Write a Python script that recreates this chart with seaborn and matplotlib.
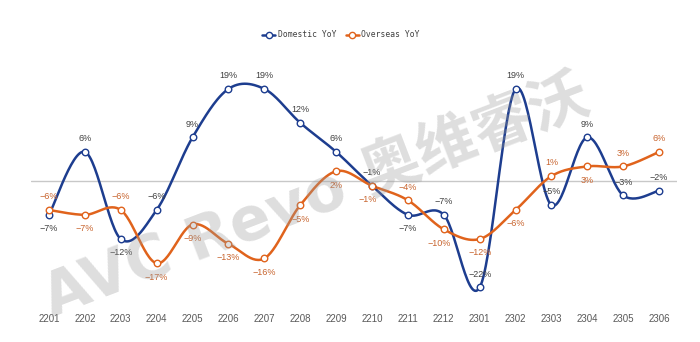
import numpy as np
import pandas as pd
import matplotlib
matplotlib.use("Agg")
import matplotlib.pyplot as plt
from matplotlib.lines import Line2D
import seaborn as sns

# ---- data ----
months = ["2201", "2202", "2203", "2204", "2205", "2206", "2207", "2208", "2209",
          "2210", "2211", "2212", "2301", "2302", "2303", "2304", "2305", "2306"]
domestic = [-7, 6, -12, -6, 9, 19, 19, 12, 6, -1, -7, -7, -22, 19, -5, 9, -3, -2]
overseas = [-6, -7, -6, -17, -9, -13, -16, -5, 2, -1, -4, -10, -12, -6, 1, 3, 3, 6]
series_names = ["Domestic YoY", "Overseas YoY"]

# label placement (a = above, b = below, l = below-left)
dom_pos = ["b", "a", "b", "a", "a", "a", "a", "a", "a", "a", "b", "a", "a", "a", "a", "a", "a", "a"]
ovs_pos = ["a", "b", "a", "b", "b", "b", "b", "b", "b", "l", "a", "l", "b", "b", "a", "b", "a", "a"]

BLUE = "#1d3d8f"
ORANGE = "#e0631c"
ORANGE_TXT = "#c8642e"
GRAY_TXT = "#404040"

sns.set_theme(style="white")
plt.rcParams["font.family"] = ["Liberation Sans", "DejaVu Sans", "Noto Sans CJK SC"]
plt.rcParams["axes.unicode_minus"] = True


def smooth(y, n=30):
    """Bezier smoothing through the points (Excel-style smoothed line)."""
    y = np.asarray(y, float)
    x = np.arange(len(y), dtype=float)
    P = np.column_stack([x, y])
    Pext = np.vstack([P[0], P, P[-1]])
    xs, ys = [], []
    t = np.linspace(0, 1, n)[:, None]
    for i in range(len(P) - 1):
        p0 = Pext[i + 1]
        p3 = Pext[i + 2]
        p1 = p0 + (Pext[i + 2] - Pext[i]) / 6.0
        p2 = p3 - (Pext[i + 3] - Pext[i + 1]) / 6.0
        seg = ((1 - t) ** 3) * p0 + 3 * ((1 - t) ** 2) * t * p1 + 3 * (1 - t) * t ** 2 * p2 + t ** 3 * p3
        if i > 0:
            seg = seg[1:]
        xs.append(seg[:, 0]); ys.append(seg[:, 1])
    return np.concatenate(xs), np.concatenate(ys)


fig = plt.figure(figsize=(7.0, 3.42), dpi=100)
ax = fig.add_axes([0.0443, 0.117, 0.923, 0.708])

# watermark
fig.text(0.452, 0.42, "AVC Revo 奥维睿沃", rotation=21, fontsize=43, fontweight="bold",
         color="#9a9a9a", alpha=0.33, ha="center", va="center",
         family=["DejaVu Sans", "Noto Sans CJK SC"], zorder=0)

ax.axhline(0, color="#c8c8c8", lw=1.0, zorder=1)

idx = np.arange(len(months))
for vals, color in [(domestic, BLUE), (overseas, ORANGE)]:
    sx, sy = smooth(vals)
    df_s = pd.DataFrame({"x": sx, "y": sy})
    sns.lineplot(data=df_s, x="x", y="y", ax=ax, color=color, lw=1.8, sort=False,
                 estimator=None, zorder=3)
for vals, color in [(domestic, BLUE), (overseas, ORANGE)]:
    df_p = pd.DataFrame({"x": idx, "y": vals})
    sns.scatterplot(data=df_p, x="x", y="y", ax=ax, s=22, facecolor="white",
                    edgecolor=color, linewidth=1.0, zorder=4)


def fmt(v):
    return ("\u2212%d%%" % abs(v)) if v < 0 else ("%d%%" % v)


offsets = {"a": (0, 9.5), "b": (0, -10), "l": (-3, -10)}
for vals, pos, tc in [(domestic, dom_pos, GRAY_TXT), (overseas, ovs_pos, ORANGE_TXT)]:
    for i, (v, p) in enumerate(zip(vals, pos)):
        ax.annotate(fmt(v), (i, v), xytext=offsets[p], textcoords="offset points",
                    ha="center", va="center", fontsize=6.5, color=tc, zorder=5)

ax.set_xlim(-0.5, len(months) - 0.5)
ax.set_ylim(-25, 25)
ax.set_xticks(idx)
ax.set_xticklabels(months, fontsize=7, color="#595959")
ax.tick_params(axis="x", length=0, pad=9)
ax.set_yticks([])
ax.set_xlabel("")
ax.set_ylabel("")
for s in ax.spines.values():
    s.set_visible(False)
ax.patch.set_alpha(0)

handles = [Line2D([0], [0], color=BLUE, lw=1.8, marker="o", markersize=4.5,
                  markerfacecolor="white", markeredgecolor=BLUE),
           Line2D([0], [0], color=ORANGE, lw=1.8, marker="o", markersize=4.5,
                  markerfacecolor="white", markeredgecolor=ORANGE)]
fig.legend(handles, series_names, loc="center", bbox_to_anchor=(0.487, 0.898), ncol=2,
           frameon=False, handlelength=1.6, handletextpad=0.3, columnspacing=1.2,
           prop={"family": "DejaVu Sans Mono", "size": 5.8}, labelcolor=GRAY_TXT)

fig.savefig("out.png", dpi=100)
